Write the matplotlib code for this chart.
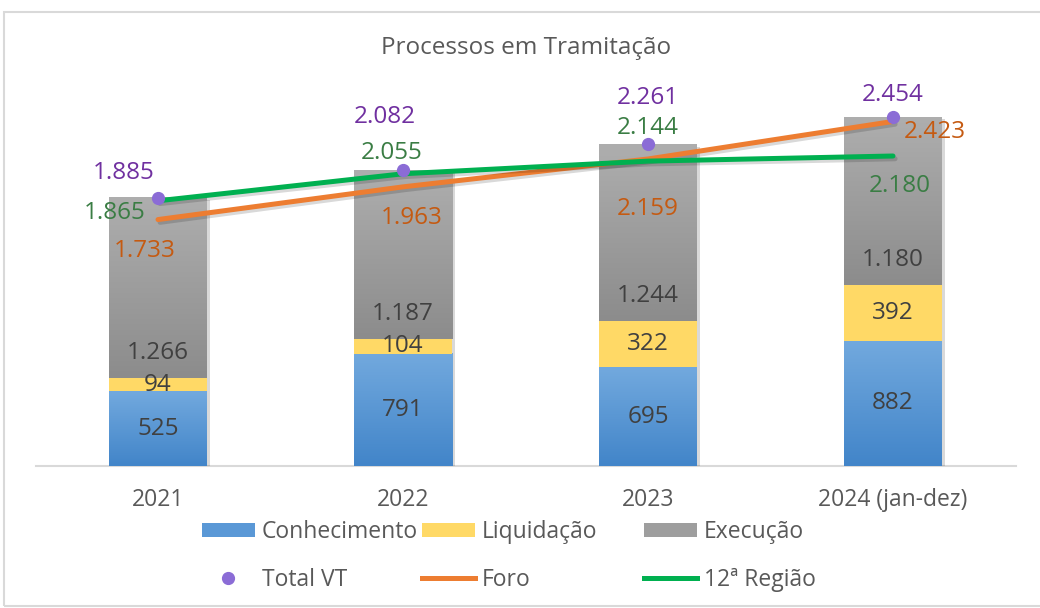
import numpy as np
import matplotlib
matplotlib.use('Agg')
import matplotlib.pyplot as plt
from matplotlib.colors import LinearSegmentedColormap
from matplotlib.patches import Rectangle, Patch
from matplotlib.lines import Line2D
import matplotlib.patheffects as pe

plt.rcParams['font.family'] = ['Open Sans', 'DejaVu Sans']

years = ['2021', '2022', '2023', '2024 (jan-dez)']
conhecimento = [525, 791, 695, 882]
liquidacao = [94, 104, 322, 392]
execucao = [1266, 1187, 1244, 1180]
total_vt = [1885, 2082, 2261, 2454]
foro = [1733, 1963, 2159, 2423]
regiao = [1865, 2055, 2144, 2180]

# label offsets in pixels (dx, dy) for the line series
vt_off = [(-34, 25), (-18, 53), (0, 46), (0, 22)]
foro_off = [(-13, -31), (9, -31), (0, -50), (42, -11)]
regiao_off = [(-43, -12), (-11, 21), (0, 33), (7, -30)]


def fmt(v):
    return f"{v:,}".replace(',', '.')


def gradient_bar(ax, x0, y0, w, h, top, bottom, z):
    cmap = LinearSegmentedColormap.from_list('g', [bottom, top])
    grad = np.linspace(0, 1, 100).reshape(-1, 1)
    ax.imshow(grad, extent=[x0, x0 + w, y0, y0 + h], origin='lower', cmap=cmap,
              aspect='auto', zorder=z, interpolation='bicubic')


fig = plt.figure(figsize=(10.4, 6.08), dpi=100)
fig.patches.append(Rectangle((4 / 1040, 2 / 608), 1.1, 594 / 608, transform=fig.transFigure,
                             fill=False, edgecolor='#D9D9D9', lw=1.5))
ax = fig.add_axes([35.5 / 1040, 142 / 608, 980 / 1040, 426.6 / 608])

x = np.arange(len(years))
width = 0.4
blue_top, blue_bot = '#72A9DE', '#4285C9'
gray_top, gray_bot = '#AEAEAE', '#8C8C8C'
yellow = '#FFD966'
lbl_size = 17.5

cl = np.array(conhecimento)
lq = np.array(liquidacao)
ex = np.array(execucao)

for i in range(len(x)):
    x0 = x[i] - width / 2
    tot = cl[i] + lq[i] + ex[i]
    shadow = Rectangle((x0, 0), width, tot, facecolor='white', edgecolor='none', zorder=1,
                       path_effects=[pe.SimplePatchShadow(offset=(2.5, -1.5), shadow_rgbFace='black', alpha=0.15),
                                     pe.Normal()])
    ax.add_patch(shadow)
    gradient_bar(ax, x0, 0, width, cl[i], blue_top, blue_bot, 2)
    ax.add_patch(Rectangle((x0, cl[i]), width, lq[i], facecolor=yellow, edgecolor='none', zorder=2))
    gradient_bar(ax, x0, cl[i] + lq[i], width, ex[i], gray_top, gray_bot, 2)

    ax.text(x[i], cl[i] / 2, fmt(cl[i]), ha='center', va='center', fontsize=lbl_size, color='#404040', zorder=6)
    ax.text(x[i], cl[i] + lq[i] / 2, fmt(lq[i]), ha='center', va='center', fontsize=lbl_size, color='#404040', zorder=6)
    ax.annotate(fmt(ex[i]), (x[i], cl[i] + lq[i]), xytext=(0, 25), textcoords='offset pixels',
                ha='center', va='center', fontsize=lbl_size, color='#404040', zorder=6)

ax.set_xlim(-0.5, 3.5)
ax.set_ylim(0, 3000)

shadow_fx = [pe.SimpleLineShadow(offset=(1.5, -2), alpha=0.15), pe.Normal()]
ax.plot(x, foro, color='#ED7D31', lw=3.6, solid_capstyle='round', zorder=4, path_effects=shadow_fx)
ax.plot(x, regiao, color='#00B050', lw=3.6, solid_capstyle='round', zorder=4, path_effects=shadow_fx)
ax.plot(x, total_vt, 'o', color='#8B6CD6', ms=8.5, zorder=5, linestyle='none')

for i in range(len(x)):
    ax.annotate(fmt(total_vt[i]), (x[i], total_vt[i]), xytext=vt_off[i], textcoords='offset pixels',
                ha='center', va='center', fontsize=lbl_size, color='#7030A0', zorder=7)
    ax.annotate(fmt(foro[i]), (x[i], foro[i]), xytext=foro_off[i], textcoords='offset pixels',
                ha='center', va='center', fontsize=lbl_size, color='#C55A11', zorder=7)
    ax.annotate(fmt(regiao[i]), (x[i], regiao[i]), xytext=regiao_off[i], textcoords='offset pixels',
                ha='center', va='center', fontsize=lbl_size, color='#3A7D44', zorder=7)

for s in ['top', 'left', 'right']:
    ax.spines[s].set_visible(False)
ax.spines['bottom'].set_color('#D9D9D9')
ax.spines['bottom'].set_linewidth(1.5)
ax.spines['bottom'].set_zorder(0)
ax.set_yticks([])
ax.set_xticks(x)
ax.set_xticklabels(years, fontsize=16.5, color='#595959')
ax.tick_params(axis='x', length=0, pad=16)

fig.text(526 / 1040, 1 - 48 / 608, 'Processos em Tramitação', ha='center', va='center',
         fontsize=17.5, color='#595959')

cols = [
    [Patch(facecolor='#5A98D6', label='Conhecimento'),
     Line2D([], [], marker='o', color='#8B6CD6', linestyle='none', ms=8.5, label='Total VT')],
    [Patch(facecolor=yellow, label='Liquidação'),
     Line2D([], [], color='#ED7D31', lw=3.6, label='Foro')],
    [Patch(facecolor='#9E9E9E', label='Execução'),
     Line2D([], [], color='#00B050', lw=3.6, label='12ª Região')],
]
col_x = [202, 422, 644]
for hs, cx in zip(cols, col_x):
    fig.legend(handles=hs, loc='upper left', bbox_to_anchor=(cx / 1040, 1 - 520 / 608),
               frameon=False, fontsize=16.5, labelcolor='#595959', handlelength=2.3,
               handleheight=0.6, handletextpad=0.3, labelspacing=1.05, borderpad=0, borderaxespad=0)

fig.savefig('out.png', dpi=100)
